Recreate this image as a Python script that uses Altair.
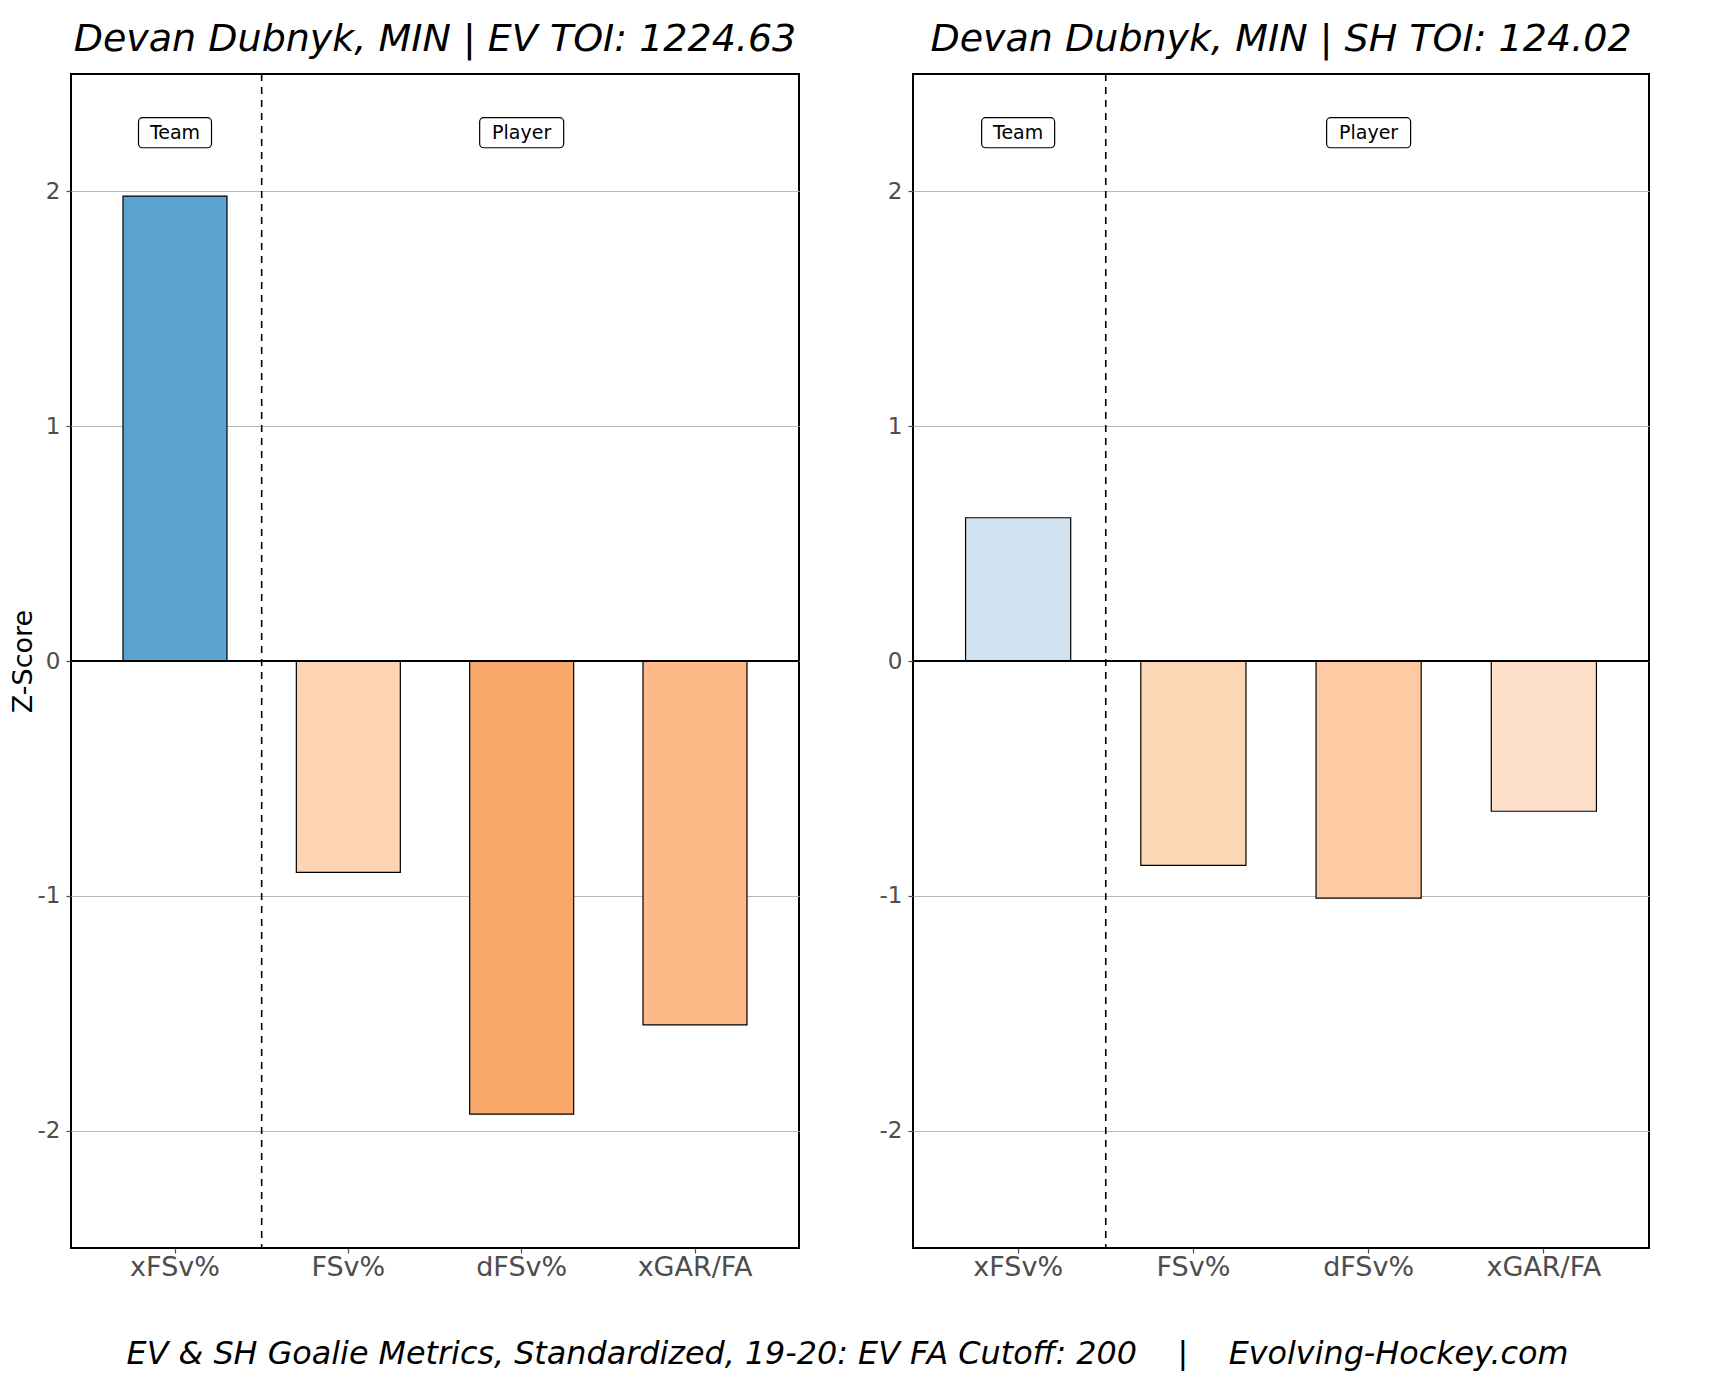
import altair as alt
import pandas as pd

# ---------------- data ----------------
metrics = ["xFSv%", "FSv%", "dFSv%", "xGAR/FA"]
ev_values = [1.98, -0.90, -1.93, -1.55]
sh_values = [0.61, -0.87, -1.01, -0.64]
ev_colors = ["#5DA3D2", "#FDD5B4", "#F7A86A", "#FDB988"]
sh_colors = ["#D0E2F0", "#FDD6B6", "#FDCAA4", "#FEE0CA"]
panel_titles = ["Devan Dubnyk, MIN | EV TOI: 1224.63",
                "Devan Dubnyk, MIN | SH TOI: 124.02"]
group_labels = ["Team", "Player"]
group_metrics = ["xFSv%", "dFSv%"]
group_label_y = [2.25, 2.25]
divider_metric = ["xFSv%"]
y_ticks = [-2, -1, 0, 1, 2]
SP = "\u00a0" * 4
caption = f"EV & SH Goalie Metrics, Standardized, 19-20: EV FA Cutoff: 200{SP}|{SP}Evolving-Hockey.com"

# ---------------- style ----------------
FONT = "DejaVu Sans"
P_IN, P_OUT = 0.4, 0.3
PH = 1174
BOX_HALF = 0.064
BOX_W = {"Team": 73, "Player": 84}

xscale = alt.Scale(domain=metrics, paddingInner=P_IN, paddingOuter=P_OUT)
yscale = alt.Scale(domain=[-2.5, 2.5], nice=False, zero=False)


def xenc():
    return alt.X("metric:N", scale=xscale, sort=metrics,
                 axis=alt.Axis(title=None, labelAngle=0, labelFontSize=27,
                               labelColor="#4d4d4d", labelFont=FONT,
                               tickColor="#4d4d4d", tickSize=5, tickWidth=1.2,
                               domain=False, grid=False, labelPadding=1))


def panel(values, colors, title, show_ytitle, pw):
    step = pw / (len(metrics) - P_IN + 2 * P_OUT)
    df = pd.DataFrame({"metric": metrics, "z": values, "color": colors})
    yaxis_kwargs = dict(values=y_ticks, grid=True, gridColor="#b8b8b8",
                        gridWidth=1, labelFontSize=23, labelColor="#4d4d4d",
                        labelFont=FONT, tickColor="#4d4d4d", tickSize=5,
                        tickWidth=1.2, domain=False, labelPadding=6,
                        labelExpr="'' + datum.value")
    if show_ytitle:
        yaxis_kwargs.update(title="Z-Score", titleFontSize=27, titleFont=FONT,
                            titleFontWeight="normal", titleColor="black",
                            titlePadding=0)
    else:
        yaxis_kwargs.update(title=None)

    bars = alt.Chart(df).mark_bar(stroke="black", strokeWidth=1.2).encode(
        x=xenc(),
        y=alt.Y("z:Q", scale=yscale, axis=alt.Axis(**yaxis_kwargs)),
        y2=alt.datum(0),
        fill=alt.Fill("color:N", scale=None),
    )

    zero = alt.Chart(pd.DataFrame({"z": [0]})).mark_rule(
        color="black", strokeWidth=2).encode(y=alt.Y("z:Q", scale=yscale))

    divider = alt.Chart(pd.DataFrame({"metric": divider_metric})).mark_rule(
        color="black", strokeDash=[7, 6], strokeWidth=1.6,
        xOffset=step * P_IN / 2).encode(
        x=alt.X("metric:N", scale=xscale, sort=metrics, bandPosition=1))

    lab_df = pd.DataFrame({"metric": group_metrics, "label": group_labels,
                           "y": group_label_y})
    boxes = []
    for lab in group_labels:
        boxes.append(
            alt.Chart(lab_df).transform_filter(alt.datum.label == lab)
            .transform_calculate(y0=f"datum.y - {BOX_HALF}",
                                 y1=f"datum.y + {BOX_HALF}")
            .mark_bar(width=BOX_W[lab], fill="white", stroke="black",
                      strokeWidth=1.2, cornerRadius=4)
            .encode(x=alt.X("metric:N", scale=xscale, sort=metrics),
                    y=alt.Y("y0:Q", scale=yscale), y2="y1:Q")
        )
    texts = alt.Chart(lab_df).mark_text(fontSize=19, font=FONT, color="black",
                                        baseline="middle").encode(
        x=alt.X("metric:N", scale=xscale, sort=metrics),
        y=alt.Y("y:Q", scale=yscale), text="label:N")

    return alt.layer(bars, zero, divider, *boxes, texts).properties(
        width=pw, height=PH,
        title=alt.TitleParams(title, fontSize=38, font=FONT, fontStyle="italic",
                              fontWeight="normal", color="black",
                              anchor="middle", offset=14),
    )


left = panel(ev_values, ev_colors, panel_titles[0], True, 728)
right = panel(sh_values, sh_colors, panel_titles[1], False, 736)

chart = alt.hconcat(left, right, spacing=77).properties(
    padding={"left": 0, "top": 12, "right": 0, "bottom": 0},
    title=alt.TitleParams(caption, orient="bottom", fontSize=31.8, font=FONT,
                          fontStyle="italic", fontWeight="normal",
                          color="black", anchor="middle", offset=58, dx=18),
).configure_view(stroke="black", strokeWidth=2)

chart.save("out.html", embed_options={"renderer": "svg", "actions": False})
